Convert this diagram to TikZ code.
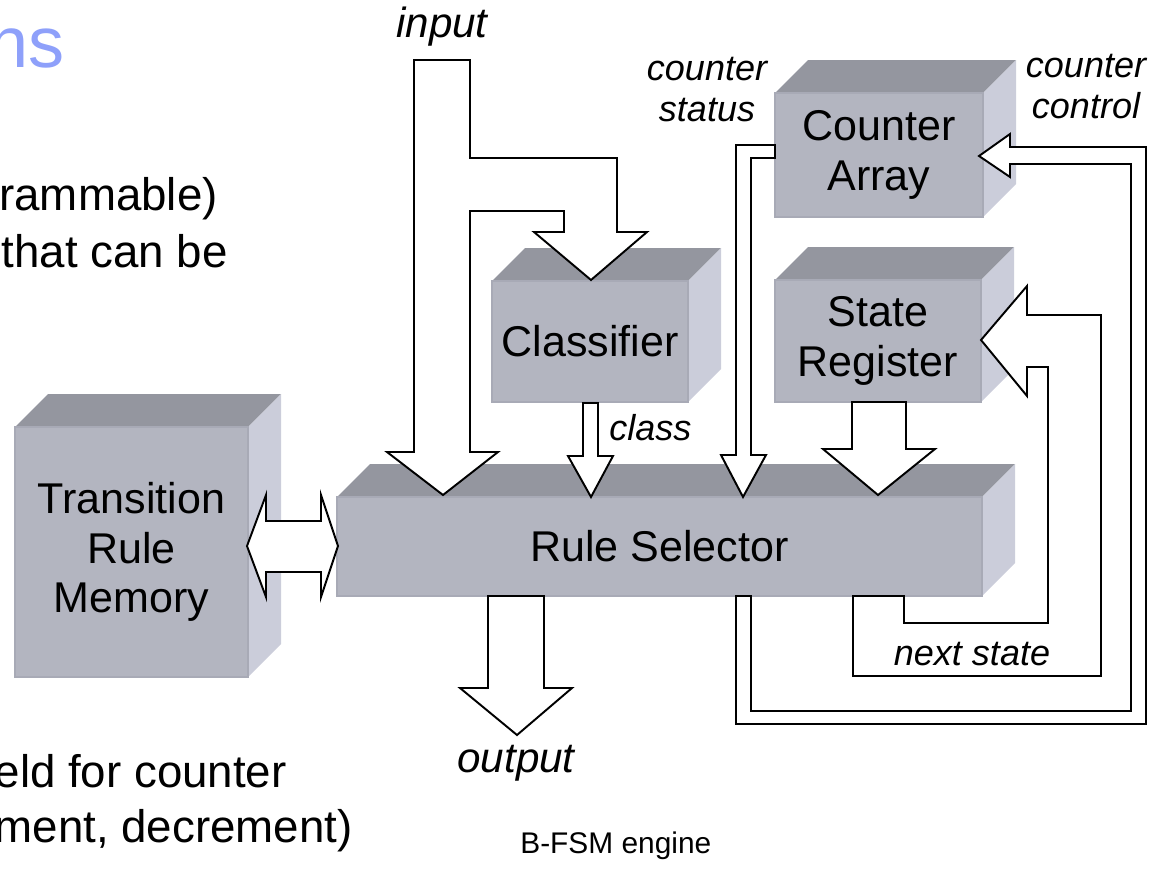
\documentclass[tikz,border=0pt]{standalone}
\usepackage{fontspec}
\setmainfont{Liberation Sans}
\usepackage{xcolor}

\definecolor{facefront}{RGB}{179,181,192}
\definecolor{facetop}{RGB}{148,150,159}
\definecolor{faceside}{RGB}{203,205,218}
\definecolor{faceedge}{RGB}{168,170,182}
\definecolor{titleblue}{RGB}{142,160,250}

\begin{document}
\begin{tikzpicture}[x=0.02cm,y=-0.02cm,
    front/.style={fill=facefront,draw=faceedge,line width=0.6pt},
    topface/.style={fill=facetop},
    sideface/.style={fill=faceside},
    flow/.style={draw=black,fill=white,line width=1.1pt,line join=miter},
    boxtext/.style={font=\fontsize{24.5}{28}\selectfont,align=center},
    tag/.style={font=\fontsize{20.5}{23.3}\selectfont\itshape,align=center,inner sep=0pt},
    iotag/.style={font=\fontsize{24}{28}\selectfont\itshape,inner sep=0pt},
    bodytext/.style={font=\fontsize{26}{30}\selectfont,anchor=base east,inner sep=0pt}]

    \useasboundingbox (0,0) rectangle (1169,879);

    % slide text on the left
    \node[bodytext, font=\fontsize{41}{46}\selectfont, text=titleblue] (title) at (65,67) {ns};
    \node[bodytext] (txt1) at (218,210) {rammable)};
    \node[bodytext] (txt2) at (228,267) {that can be};
    \node[bodytext] (txt3) at (287,787) {eld for counter};
    \node[bodytext] (txt4) at (353,842) {ment, decrement)};

    % blocks: name / left / top / right / bottom / label
    \foreach \n/\xa/\ya/\xb/\yb/\txt in {
        trm/15/427/248/677/{Transition\\Rule\\Memory},
        rs/337/497/982/596/{Rule Selector},
        cls/492/281/688/402/{Classifier},
        ca/775/93/983/217/{Counter\\Array},
        sr/775/280/981/402/{State\\Register}}{
      \fill[topface] (\xa,\ya) -- (\xa+33,\ya-33) -- (\xb+33,\ya-33) -- (\xb,\ya) -- cycle;
      \fill[sideface] (\xb,\ya) -- (\xb+33,\ya-33) -- (\xb+33,\yb-33) -- (\xb,\yb) -- cycle;
      \draw[front] (\xa,\ya) rectangle (\xb,\yb);
      \node[boxtext] (\n) at ({(\xa+\xb)/2},{(\ya+\yb)/2}) {\txt};
    }

    % input, split to classifier and rule selector
    \draw[flow] (414,60) -- (470,60) -- (470,158) -- (617,158) -- (617,232) -- (647,232)
        -- (591,280) -- (534,232) -- (564,232) -- (564,211) -- (470,211) -- (470,452)
        -- (498,452) -- (443,495) -- (387,452) -- (414,452) -- cycle;
    % class
    \draw[flow] (583,403) -- (598,403) -- (598,456) -- (613,456) -- (591,497) -- (568,456) -- (583,456) -- cycle;
    % counter status
    \draw[flow] (775,145) -- (736,145) -- (736,455) -- (721,455) -- (743,497) -- (766,455)
        -- (751,455) -- (751,158) -- (775,158) -- cycle;
    % state register to rule selector
    \draw[flow] (852,402) -- (906,402) -- (906,449) -- (935,449) -- (878,495) -- (823,449) -- (852,449) -- cycle;
    % counter control
    \draw[flow] (736,596) -- (736,724) -- (1146,724) -- (1146,147) -- (1010,147) -- (1010,134)
        -- (979,156) -- (1010,177) -- (1010,164) -- (1131,164) -- (1131,711) -- (751,711) -- (751,596) -- cycle;
    % next state
    \draw[flow] (853,596) -- (853,676) -- (1101,676) -- (1101,315) -- (1027,315) -- (1027,286)
        -- (981,340) -- (1027,396) -- (1027,367) -- (1048,367) -- (1048,623) -- (904,623) -- (904,596) -- cycle;
    % output
    \draw[flow] (488,596) -- (544,596) -- (544,688) -- (572,688) -- (517,735) -- (460,688) -- (488,688) -- cycle;
    % memory <-> selector
    \draw[flow] (247,546) -- (266,495) -- (266,521) -- (321,521) -- (321,495) -- (338,546)
        -- (321,597) -- (321,572) -- (266,572) -- (266,597) -- cycle;

    % signal names
    \node[iotag, anchor=base] (in) at (442,37) {input};
    \node[tag] (cs) at (707,90) {counter\\status};
    \node[tag] (cc) at (1086,87) {counter\\control};
    \node[tag, anchor=base west] (cl) at (609,440) {class};
    \node[tag, anchor=base] (ns) at (972,665) {next state};
    \node[iotag, anchor=base] (out) at (516,772) {output};
    \node[font=\fontsize{17}{20}\selectfont, anchor=base west, inner sep=0pt] (cap) at (520,853) {B-FSM engine};

\end{tikzpicture}
\end{document}
